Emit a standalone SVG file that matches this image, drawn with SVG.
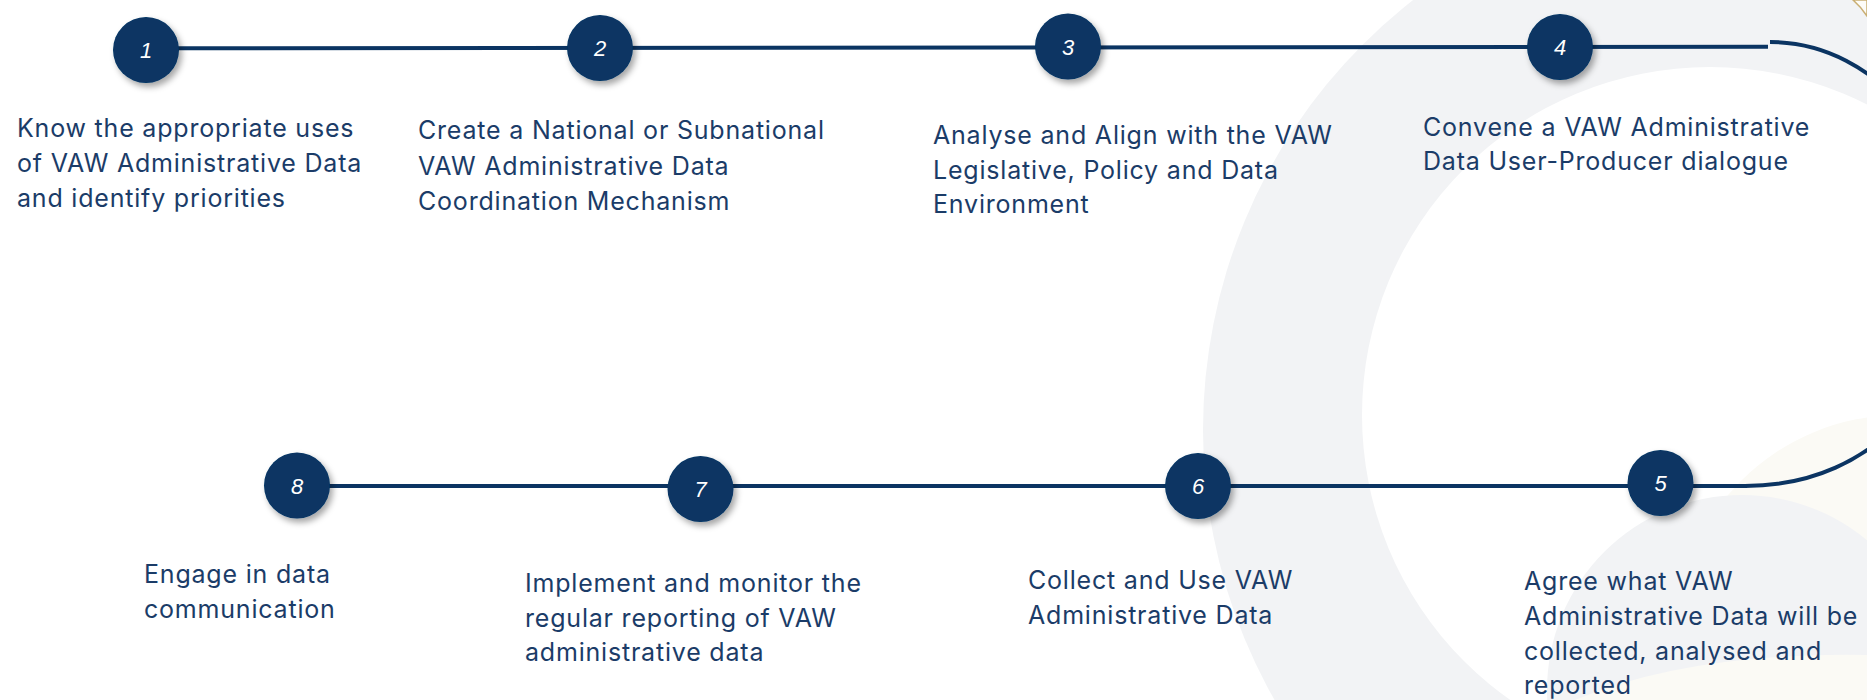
<svg xmlns="http://www.w3.org/2000/svg" width="1867" height="700" viewBox="0 0 1867 700">
  <defs>
    <filter id="shadow" x="-40%" y="-40%" width="190%" height="190%">
      <feDropShadow dx="3" dy="4" stdDeviation="3" flood-color="#000" flood-opacity="0.35"/>
    </filter>
    <style>
      .bg-gray { fill: #f2f3f5; }
      .bg-white { fill: #ffffff; }
      .bg-cream { fill: #fbfaf5; }
      .link { fill: none; stroke: #0b3462; stroke-width: 4; }
      .dot { fill: #073564; filter: url(#shadow); }
      .num { font-family: "Liberation Sans", Arial, sans-serif; font-style: italic; font-size: 22px; fill: #ffffff; text-anchor: middle; }
      .label { font-family: Inter, "Open Sans", sans-serif; font-size: 25px; letter-spacing: 0.8px; fill: #1b3c68; }
    </style>
  </defs>

  <!-- page background -->
  <rect width="1867" height="700" fill="#ffffff"/>

  <!-- decorative background rings -->
  <g id="background">
    <circle class="bg-gray" cx="1748" cy="430" r="545"/>
    <circle class="bg-white" cx="1710" cy="415" r="348"/>
    <circle class="bg-cream" cx="1900" cy="640" r="225"/>
    <circle class="bg-gray" cx="1742" cy="690" r="195"/>
    <path class="bg-cream" d="M1575,700 Q1690,652 1867,655 L1867,700 Z"/>
    <path d="M1853,0 Q1861,7 1867,16 L1867,0 Z" fill="#fdfcf8" stroke="#c9ae73" stroke-width="1.5"/>
  </g>

  <!-- connectors -->
  <g id="connectors">
    <line class="link" x1="146" y1="48.3" x2="1768" y2="46.7"/>
    <path class="link" d="M1770,42 C1880,42 1960,150 1960,264 C1960,380 1880,486 1745,486"/>
    <line class="link" x1="297" y1="486" x2="1747" y2="486"/>
  </g>

  <!-- steps along the top row -->
  <g id="step1">
    <circle class="dot" cx="146" cy="50" r="33"/>
    <text class="num" x="146" y="58">1</text>
    <text class="label"><tspan x="17" y="137">Know the appropriate uses</tspan><tspan x="17" y="172">of VAW Administrative Data</tspan><tspan x="17" y="207">and identify priorities</tspan></text>
  </g>
  <g id="step2">
    <circle class="dot" cx="600" cy="48" r="33"/>
    <text class="num" x="600" y="56">2</text>
    <text class="label"><tspan x="418" y="139">Create a National or Subnational</tspan><tspan x="418" y="174.5">VAW Administrative Data</tspan><tspan x="418" y="210">Coordination Mechanism</tspan></text>
  </g>
  <g id="step3">
    <circle class="dot" cx="1068" cy="46.5" r="33"/>
    <text class="num" x="1068" y="54.5">3</text>
    <text class="label"><tspan x="933" y="144">Analyse and Align with the VAW</tspan><tspan x="933" y="178.5">Legislative, Policy and Data</tspan><tspan x="933" y="213">Environment</tspan></text>
  </g>
  <g id="step4">
    <circle class="dot" cx="1560" cy="47" r="33"/>
    <text class="num" x="1560" y="55">4</text>
    <text class="label"><tspan x="1423" y="136">Convene a VAW Administrative</tspan><tspan x="1423" y="170">Data User-Producer dialogue</tspan></text>
  </g>

  <!-- steps along the bottom row -->
  <g id="step5">
    <circle class="dot" cx="1660.5" cy="483" r="33"/>
    <text class="num" x="1660.5" y="491">5</text>
    <text class="label"><tspan x="1524" y="590">Agree what VAW</tspan><tspan x="1524" y="625">Administrative Data will be</tspan><tspan x="1524" y="660">collected, analysed and</tspan><tspan x="1524" y="694">reported</tspan></text>
  </g>
  <g id="step6">
    <circle class="dot" cx="1198" cy="486" r="33"/>
    <text class="num" x="1198" y="494">6</text>
    <text class="label"><tspan x="1028" y="589">Collect and Use VAW</tspan><tspan x="1028" y="624">Administrative Data</tspan></text>
  </g>
  <g id="step7">
    <circle class="dot" cx="700.5" cy="489" r="33"/>
    <text class="num" x="700.5" y="497">7</text>
    <text class="label"><tspan x="525" y="592">Implement and monitor the</tspan><tspan x="525" y="627">regular reporting of VAW</tspan><tspan x="525" y="661">administrative data</tspan></text>
  </g>
  <g id="step8">
    <circle class="dot" cx="297" cy="485.5" r="33"/>
    <text class="num" x="297" y="493.5">8</text>
    <text class="label"><tspan x="144" y="583">Engage in data</tspan><tspan x="144" y="618">communication</tspan></text>
  </g>
</svg>
